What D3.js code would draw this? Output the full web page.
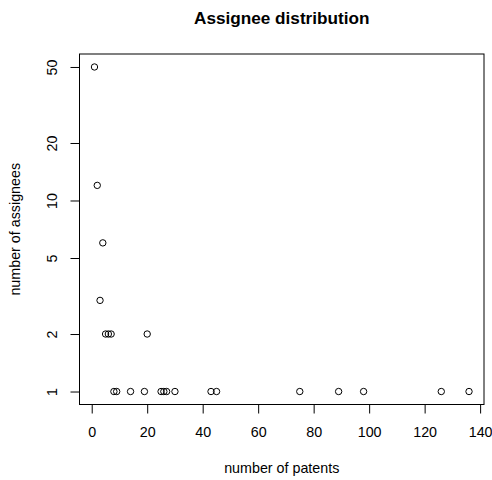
<!DOCTYPE html>
<html>
<head>
<meta charset="utf-8">
<script src="https://cdn.jsdelivr.net/npm/d3@7"></script>
<style>
  body { margin: 0; background: #fff; }
  text { font-family: "Liberation Sans", Arial, sans-serif; fill: #000; }
</style>
</head>
<body>
<div id="chart"></div>
<script>
// patents per assignee (x) and how many assignees have that count (y)
const patents   = [1, 2, 4, 3, 5, 6, 7, 20, 8, 9, 14, 19, 25, 26, 27, 30, 43, 45, 75, 89, 98, 126, 136];
const assignees = [50, 12, 6, 3, 2, 2, 2, 2, 1, 1, 1, 1, 1, 1, 1, 1, 1, 1, 1, 1, 1, 1, 1];
const xTicks = [0, 20, 40, 60, 80, 100, 120, 140];
const yTicks = [1, 2, 5, 10, 20, 50];

const width = 492, height = 480;
const pl = 79.5, pr = 484, pt = 54, pb = 404.5;
const fs = 14.3; // base font size

var svg = d3.select("#chart").append("svg")
    .attr("width", width)
    .attr("height", height);

// R style: extend data range 4% on each side
var xr = d3.extent(patents), xpad = (xr[1] - xr[0]) * 0.04;
var x = d3.scaleLinear()
    .domain([xr[0] - xpad, xr[1] + xpad])
    .range([pl, pr]);

var yr = d3.extent(assignees).map(Math.log10), ypad = (yr[1] - yr[0]) * 0.04;
var y = d3.scaleLog()
    .domain([Math.pow(10, yr[0] - ypad), Math.pow(10, yr[1] + ypad)])
    .range([pb, pt]);

svg.append("rect")
    .attr("x", pl).attr("y", pt)
    .attr("width", pr - pl).attr("height", pb - pt)
    .attr("fill", "none").attr("stroke", "#000").attr("stroke-width", 1);

var xAxis = d3.axisBottom(x).tickValues(xTicks).tickSize(9);
var gX = svg.append("g")
    .attr("transform", "translate(0," + pb + ")")
    .call(xAxis);
gX.select(".domain").attr("d", "M" + x(xTicks[0]) + ",0H" + x(xTicks[xTicks.length - 1]));
gX.selectAll(".tick text")
    .attr("font-size", fs)
    .attr("font-family", "Liberation Sans, Arial, sans-serif")
    .attr("y", 32.3).attr("dy", null);

var yAxis = d3.axisLeft(y).tickValues(yTicks).tickFormat(d3.format("d")).tickSize(9);
var gY = svg.append("g")
    .attr("transform", "translate(" + pl + ",0)")
    .call(yAxis);
gY.select(".domain").attr("d", "M0," + y(yTicks[0]) + "V" + y(yTicks[yTicks.length - 1]));
gY.selectAll(".tick text")
    .attr("font-size", fs)
    .attr("font-family", "Liberation Sans, Arial, sans-serif")
    .attr("x", 0).attr("y", 0).attr("dy", null)
    .attr("text-anchor", "middle")
    .attr("transform", "translate(-22.2,0) rotate(-90)");

svg.selectAll(".pt")
    .data(patents)
    .enter()
    .append("circle")
    .attr("class", "pt")
    .attr("cx", d => x(d))
    .attr("cy", (d, i) => y(assignees[i]))
    .attr("r", 3.2)
    .attr("fill", "none")
    .attr("stroke", "#000")
    .attr("stroke-width", 1);

svg.append("text")
    .attr("x", (pl + pr) / 2).attr("y", 24)
    .attr("text-anchor", "middle")
    .attr("font-size", fs * 1.2).attr("font-weight", "bold")
    .text("Assignee distribution");

svg.append("text")
    .attr("x", (pl + pr) / 2).attr("y", 472.7)
    .attr("text-anchor", "middle")
    .attr("font-size", fs)
    .text("number of patents");

svg.append("text")
    .attr("transform", "translate(20," + (pt + pb) / 2 + ") rotate(-90)")
    .attr("text-anchor", "middle")
    .attr("font-size", fs)
    .text("number of assignees");
</script>
</body>
</html>
